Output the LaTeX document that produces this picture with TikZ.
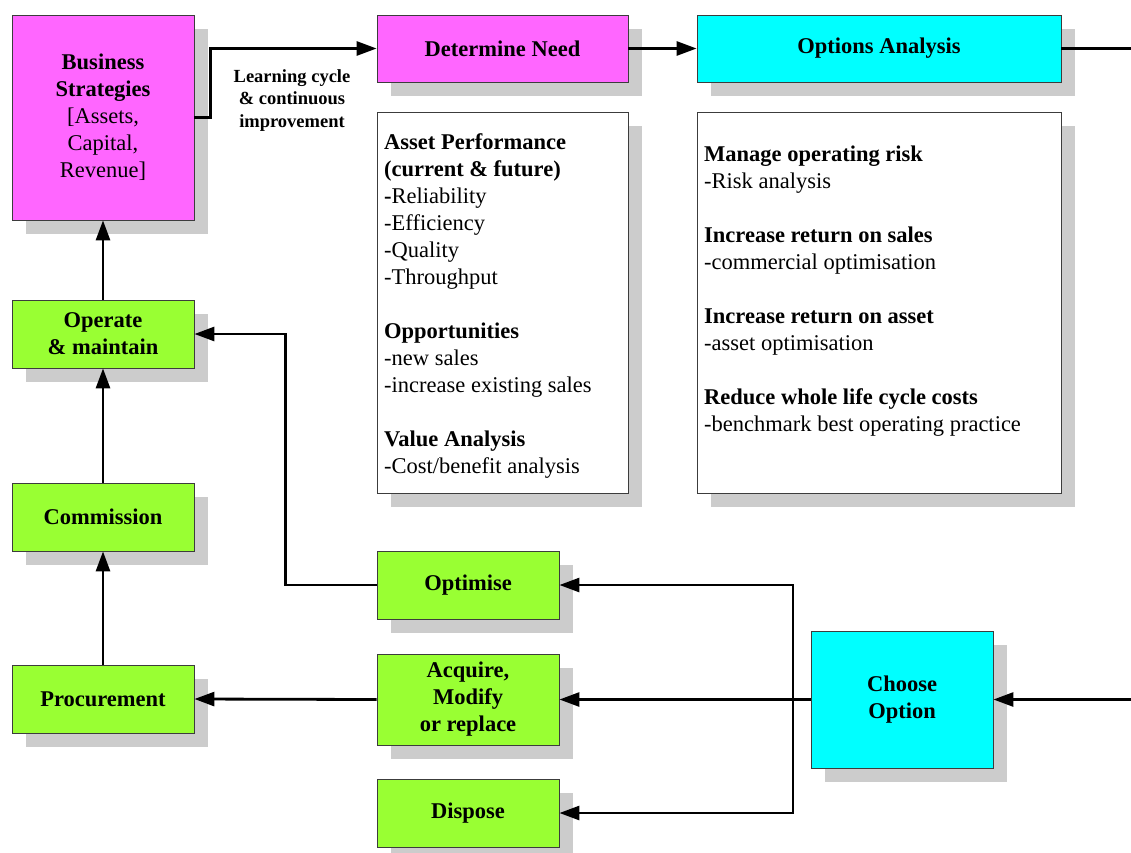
\documentclass[tikz,border=0pt]{standalone}
\usepackage{fontspec}
\setmainfont{Liberation Serif}
\usetikzlibrary{arrows.meta,shadows}
\newcommand\mainsize{\fontsize{22.5}{27}\selectfont}
\newcommand\notesize{\fontsize{18.5}{22.5}\selectfont}
\definecolor{magentabox}{RGB}{255,102,255}
\definecolor{cyanbox}{RGB}{0,255,255}
\definecolor{greenbox}{RGB}{153,255,51}
\definecolor{shadowgray}{RGB}{204,204,204}
\definecolor{edgegray}{RGB}{60,60,60}
\tikzset{
  box/.style={draw=edgegray, line width=0.8pt, inner sep=0pt, align=center,
    font=\mainsize\bfseries,
    drop shadow={shadow xshift=14pt, shadow yshift=-14pt, fill=shadowgray, opacity=1}},
  stratbox/.style={box, fill=magentabox},
  analysisbox/.style={box, fill=cyanbox},
  actionbox/.style={box, fill=greenbox, minimum width=182pt, minimum height=68pt},
  listbox/.style={box, fill=white, minimum width=251pt, minimum height=381pt},
  listtext/.style={anchor=north west, align=left, inner sep=0pt, font=\mainsize},
  flow/.style={line width=2.8pt, -{Triangle[length=20pt,width=14pt]}},
  wire/.style={line width=2.8pt}
}
\begin{document}
\begin{tikzpicture}[x=1pt, y=-1pt]
\useasboundingbox (0,0) rectangle (1131,852);

% strategy and analysis boxes along the top
\node[stratbox, minimum width=182pt, minimum height=205pt] (strat) at (103,117.5)
  {Business\\Strategies\\\mdseries[Assets,\\\mdseries Capital,\\\mdseries Revenue]};
\node[stratbox, minimum width=251pt, minimum height=67pt] (need) at (502.5,48.5) {Determine Need};
\node[analysisbox, minimum width=364pt, minimum height=67pt] (options) at (879,48.5) {Options Analysis};

% detail lists under the top boxes
\node[listbox] (needlist) at (502.5,302.5) {};
\node[listbox, minimum width=364pt] (optlist) at (879,302.5) {};
\node[listtext] (needtext) at (384,133)
  {\textbf{Asset Performance}\\\textbf{(current \& future)}\\\textbf{-}Reliability\\-Efficiency\\-Quality\\-Throughput\\[27pt]
   \textbf{Opportunities}\\-new sales\\-increase existing sales\\[27pt]
   \textbf{Value Analysis}\\-Cost/benefit analysis};
\node[listtext] (opttext) at (704,146)
  {\textbf{Manage operating risk}\\-Risk analysis\\[27pt]
   \textbf{Increase return on sales}\\-commercial optimisation\\[27pt]
   \textbf{Increase return on asset}\\-asset optimisation\\[27pt]
   \textbf{Reduce whole life cycle costs}\\-benchmark best operating practice};

% life-cycle column on the left
\node[actionbox] (operate) at (103,334) {Operate\\\& maintain};
\node[actionbox] (commission) at (103,517) {Commission};
\node[actionbox] (procure) at (103,699) {Procurement};

% option outcomes
\node[actionbox] (optimise) at (468,585) {Optimise};
\node[actionbox, minimum height=91pt] (acquire) at (468,699.5) {Acquire,\\Modify\\or replace};
\node[actionbox] (dispose) at (468,813) {Dispose};
\node[analysisbox, minimum width=182pt, minimum height=137pt] (choose) at (902,699.5) {Choose\\Option};

\node[font=\notesize\bfseries, align=center] (learn) at (292,100.5)
  {Learning cycle\\\& continuous\\improvement};

% connectors
\coordinate (optout) at (1131,48.5);
\coordinate (choosein) at (1131,699.5);
\coordinate (split) at (793,699.5);

\draw[flow] (strat.east) -- ++(16,0) |- (need.west);
\draw[flow] (need.east) -- (options.west);
\draw[wire] (options.east) -- (optout);
\draw[flow] (choosein) -- (choose.east);
\draw[flow] (choose.west) -- (acquire.east);
\draw[flow] (split) |- (optimise.east);
\draw[flow] (split) |- (dispose.east);
\draw[flow] (acquire.west) -- (procure.east);
\draw[flow] (procure.north) -- (commission.south);
\draw[flow] (commission.north) -- (operate.south);
\draw[flow] (operate.north) -- (strat.south);
\draw[flow] (optimise.west) -- ++(-91,0) |- (operate.east);
\end{tikzpicture}
\end{document}
